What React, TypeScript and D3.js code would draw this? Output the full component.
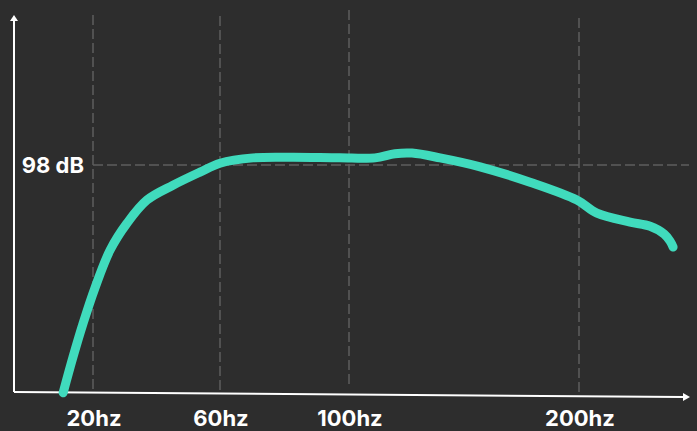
import React from 'react';
import * as d3 from 'd3';

// frequency ticks (hz) and the single dB reference
const freqTicks = [20, 60, 100, 200];
const dbTicks = [98];

// response curve
const freqs = [10.6, 13.7, 16.9, 20.6, 25.4, 30.7, 37.0, 45.2, 53.7, 60, 70.2, 82.6, 97.2, 111.3, 120, 127.4, 139.6, 157, 178.7, 199.1, 207.8, 222.2, 230.9, 237, 239.6, 240.9];
const levels = [59.7, 65.7, 71.4, 77.3, 83.7, 88.2, 92.1, 94.6, 96.8, 98.3, 99.2, 99.3, 99.2, 99.2, 99.9, 100.0, 99.2, 97.7, 95.1, 92.1, 89.9, 88.4, 87.7, 86.4, 85.2, 84.2];

const W = 697;
const H = 431;
const BG = '#2d2d2d';
const GRID = '#5e5e5e';
const LINE = '#40dbbd';
const FONT = 'Inter, "Noto Sans", sans-serif';

// hand-drawn grid lines don't all start/end at the same height
const gridTop = [15, 16, 10, 18];
const gridBottom = [390, 390, 386, 393];

export default function App() {
  // tick spacing in the picture is not uniform, so a piecewise scale
  const x = d3.scaleLinear().domain(freqTicks).range([93, 220, 349, 579]);
  const y = d3.scaleLinear().domain([60, 98]).range([391, 165]);

  const points = freqs.map((f, i) => [f, levels[i]] as [number, number]);
  const line = d3.line<[number, number]>()
    .x(d => x(d[0]))
    .y(d => y(d[1]))
    .curve(d3.curveCatmullRom.alpha(0.5));

  const axisX0 = 14;
  const axisY0 = 392;

  return (
    <svg width={W} height={H} style={{ position: 'absolute', left: 0, top: 0, display: 'block' }}>
      <rect width={W} height={H} fill={BG} />

      {/* vertical grid */}
      {freqTicks.map((f, i) => (
        <line key={f} x1={x(f)} x2={x(f)} y1={gridTop[i]} y2={gridBottom[i]}
          stroke={GRID} strokeWidth={1.5} strokeDasharray="10,4" />
      ))}
      {/* horizontal grid */}
      {dbTicks.map(v => (
        <line key={v} x1={x(20)} x2={689} y1={y(v)} y2={y(v)}
          stroke={GRID} strokeWidth={1.5} strokeDasharray="10,4" />
      ))}

      {/* axes */}
      <line x1={axisX0} x2={axisX0} y1={axisY0} y2={20} stroke="#fff" strokeWidth={2} />
      <path d={`M${axisX0 - 4},21 L${axisX0},15 L${axisX0 + 4},21 Z`} fill="#fff" />
      <line x1={axisX0} x2={684} y1={axisY0} y2={397} stroke="#fff" strokeWidth={2} />
      <path d={`M683,393 L690,397 L683,401 Z`} fill="#fff" />

      {/* curve */}
      <path d={line(points) || ''} fill="none" stroke={LINE} strokeWidth={9}
        strokeLinecap="round" strokeLinejoin="round" />

      {/* labels */}
      {dbTicks.map(v => (
        <text key={v} x={84} y={y(v) + 8} textAnchor="end" fill="#fff"
          fontFamily={FONT} fontWeight={700} fontSize={22}>{v} dB</text>
      ))}
      {freqTicks.map(f => (
        <text key={f} x={x(f) + 1} y={426} textAnchor="middle" fill="#fff"
          fontFamily={FONT} fontWeight={700} fontSize={22}>{f}hz</text>
      ))}
    </svg>
  );
}
